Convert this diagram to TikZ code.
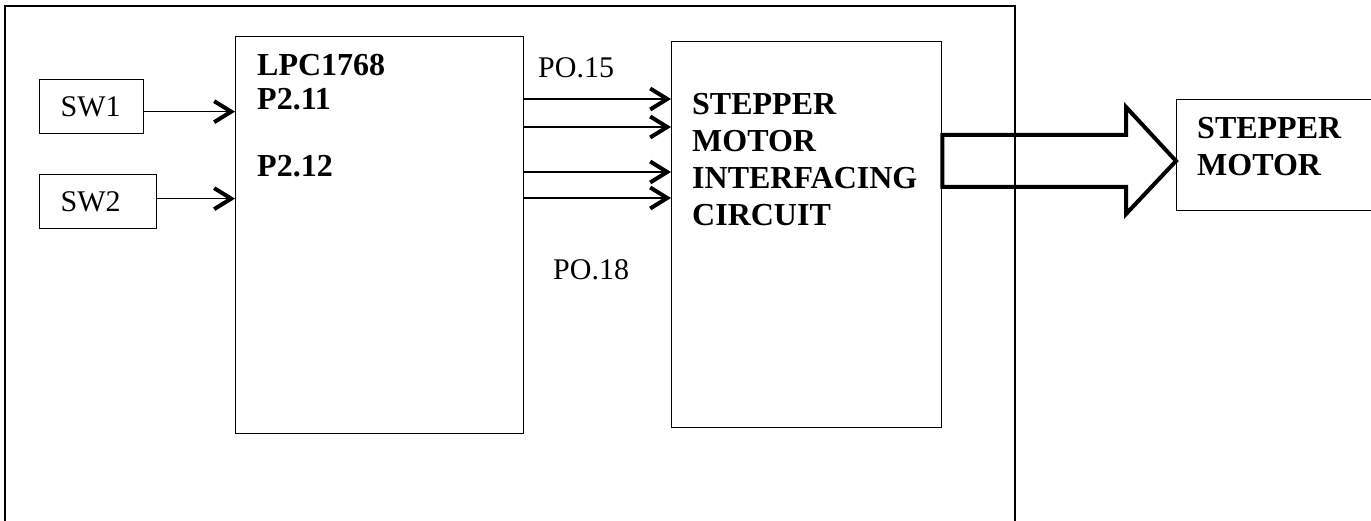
\documentclass[tikz,border=0pt]{standalone}
\usepackage{fontspec}
\setmainfont{Liberation Serif}
\usetikzlibrary{arrows.meta}

\newcommand\regtxt{\fontsize{30}{36}\selectfont}
\newcommand\boldtxt{\fontsize{32}{37}\selectfont\bfseries}

\tikzset{
  blk/.style={draw,line width=1.3pt,anchor=north west,inner sep=0pt},
  swbox/.style={blk,align=left,inner xsep=21pt,text width=#1,minimum height=54pt,font=\regtxt},
  sig/.style={line width=1.4pt,-{Straight Barb[length=17pt,width=21pt,line width=4pt]}},
  lbl/.style={anchor=base west,inner sep=0pt},
}

\begin{document}
\begin{tikzpicture}[x=1pt,y=-1pt,line join=miter]
  \useasboundingbox (0,0) rectangle (1371,521);

  % Outer frame, runs off the bottom
  \draw[line width=1.3pt] (5,560) -- (5,6) -- (1015,6) -- (1015,560);

  % Switches
  \node[swbox=62pt] (sw1) at (39,79) {SW1};
  \node[swbox=75pt] (sw2) at (39,174) {SW2};

  % Blocks
  \node[blk,minimum width=288pt,minimum height=397pt] (lpc) at (235,36) {};
  \node[blk,minimum width=270pt,minimum height=386pt] (ifc) at (671,41) {};
  \node[blk,minimum width=250pt,minimum height=111pt] (mot) at (1176,99) {};

  % Labels
  \node[lbl,font=\boldtxt] (lpcname) at (257,76) {LPC1768};
  \node[lbl,font=\boldtxt] (p211) at (257,110) {P2.11};
  \node[lbl,font=\boldtxt] (p212) at (257,177) {P2.12};
  \node[lbl,font=\regtxt] (po15) at (538,78) {PO.15};
  \node[lbl,font=\regtxt] (po18) at (553,280) {PO.18};
  \node[anchor=north west,inner sep=0pt,align=left,font=\boldtxt] (ifcname) at (692,93)
    {STEPPER\\MOTOR\\INTERFACING\\CIRCUIT};
  \node[anchor=north west,inner sep=0pt,align=left,font=\boldtxt] (motname) at (1197,117)
    {STEPPER\\MOTOR};

  % Switch inputs
  \draw[sig] ([yshift=-5pt]sw1.east) -- ([yshift=-5pt]sw1.east -| lpc.west);
  \draw[sig] ([yshift=3pt]sw2.east) -- ([yshift=3pt]sw2.east -| lpc.west);

  % Port lines to the driver
  \foreach \y in {99,127,172,198}
    \draw[sig] (lpc.east |- 0,\y) -- (ifc.west |- 0,\y);

  % Block arrow to the motor
  \draw[line width=4pt] (ifc.east |- 0,135) -- (1126,135) -- (1126,107)
    -- (mot.west |- 0,161) -- (1126,214) -- (1126,187) -- (ifc.east |- 0,187) -- cycle;
\end{tikzpicture}
\end{document}
